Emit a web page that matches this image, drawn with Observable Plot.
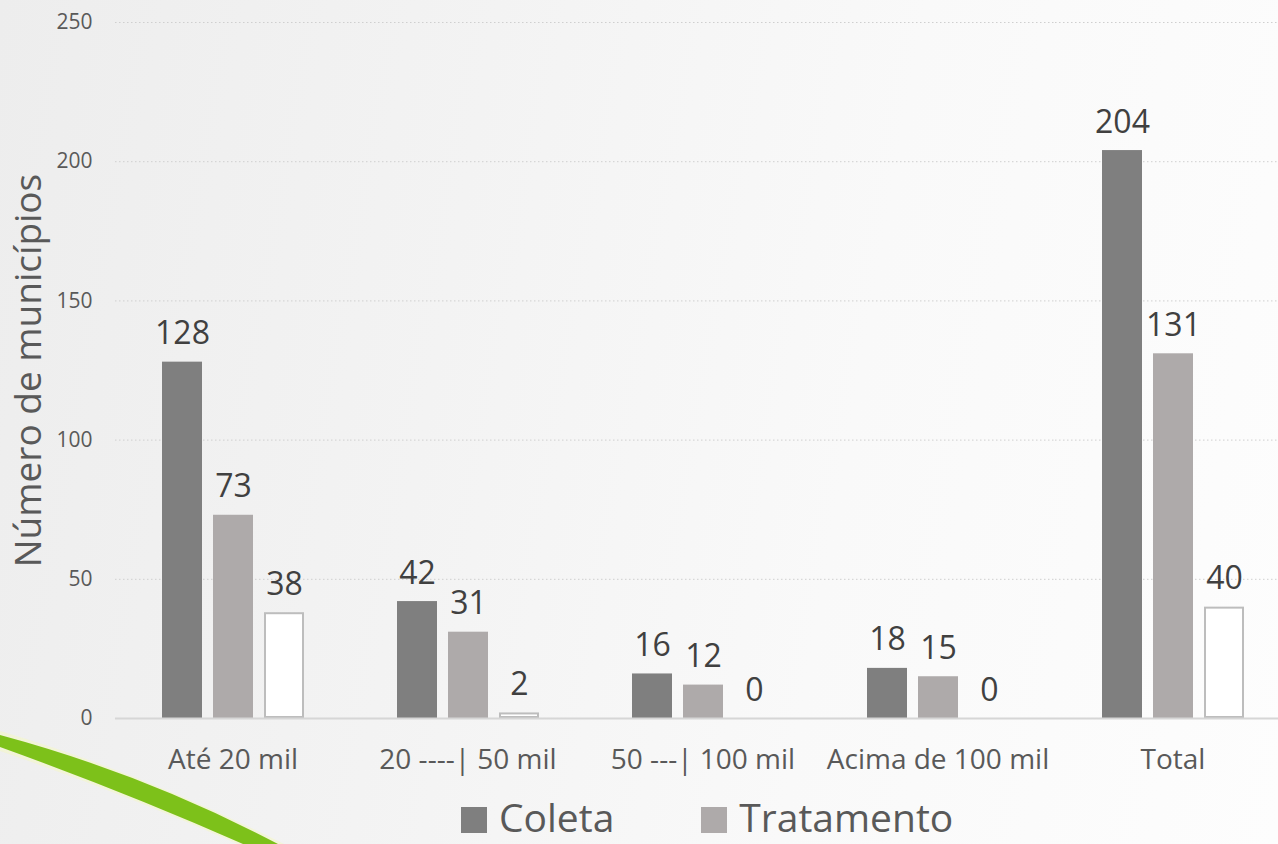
<!DOCTYPE html>
<html>
<head>
<meta charset="utf-8">
<script src="https://cdn.jsdelivr.net/npm/d3@7"></script>
<script src="https://cdn.jsdelivr.net/npm/@observablehq/plot@0.6"></script>
<style>
html, body { margin: 0; padding: 0; }
body {
  width: 1278px; height: 844px; overflow: hidden; position: relative;
  font-family: "Open Sans", sans-serif;
  background: linear-gradient(100deg, #ededed 0%, #f3f3f3 35%, #f9f9f9 65%, #fdfdfd 100%);
}
#deco { position: absolute; left: 0; top: 0; z-index: 0; }
#chart { position: absolute; left: 0; top: 0; z-index: 1; }
#legend {
  position: absolute; left: 461px; top: 799px; z-index: 2;
  display: flex; align-items: flex-start; font-size: 39px; line-height: 36px; color: #595959;
}
#legend .item { display: flex; align-items: flex-start; margin-right: 87px; }
#legend .sw { width: 26px; height: 26px; margin-right: 12px; margin-top: 8px; }
</style>
</head>
<body>
<svg id="deco" width="1278" height="844">
  <path d="M0,731 L0,751 Q120,792 238,844 L284,844 Q140,772 0,731 Z" fill="#f3f6c8" opacity="0.6"/>
  <path d="M0,735 L0,747 Q125,792 243,844 L278,844 Q145,774 0,735 Z" fill="#7dc11a"/>
</svg>
<div id="chart"></div>
<div id="legend"></div>
<script>
const categories = ["Até 20 mil", "20 ----| 50 mil", "50 ---| 100 mil", "Acima de 100 mil", "Total"];
const series = ["Coleta", "Tratamento", "Disposição"];
const coleta = [128, 42, 16, 18, 204];
const tratamento = [73, 31, 12, 15, 131];
const disposicao = [38, 2, 0, 0, 40];
const yTicks = [0, 50, 100, 150, 200, 250];
const legendSeries = ["Coleta", "Tratamento"];
const seriesColors = ["#7f7f7f", "#aeaaaa", "#ffffff"];

const values = [coleta, tratamento, disposicao];
const data = categories.flatMap((c, i) => series.map((s, j) => ({cat: c, s, v: values[j][i]})));

const chart = Plot.plot({
  width: 1278,
  height: 790,
  marginTop: 22,
  marginBottom: 72,
  marginLeft: 115,
  marginRight: 0,
  style: {fontFamily: "Open Sans", background: "transparent", color: "#595959", overflow: "visible"},
  fx: {domain: categories, range: [115, 1290], padding: 0, label: null},
  x: {domain: series, paddingInner: 0.22, paddingOuter: 0.87, axis: null},
  y: {domain: [0, 250], axis: null},
  color: {domain: series, range: seriesColors},
  marks: [
    Plot.gridY(yTicks, {stroke: "#cfcfcf", strokeOpacity: 1, strokeDasharray: "1.5,2.5"}),
    Plot.barY(data.filter(d => d.s !== series[2]), {fx: "cat", x: "s", y: "v", fill: "s"}),
    Plot.barY(data.filter(d => d.s === series[2] && d.v > 0), {fx: "cat", x: "s", y: "v", fill: "#ffffff", stroke: "#bdbdbd", strokeWidth: 2, inset: 1}),
    Plot.ruleY([0], {stroke: "#d6d6d6", strokeWidth: 2}),
    Plot.text(data, {fx: "cat", x: "s", y: "v", text: d => String(d.v), dy: -18, lineAnchor: "bottom", fontSize: 32, fill: "#404040"}),
    Plot.axisY({ticks: yTicks, tickSize: 0, tickPadding: 23, fontSize: 21, fill: "#595959", label: null}),
    Plot.axisY({ticks: [], tickSize: 0, fontSize: 37, fill: "#595959", label: "Número de municípios", labelAnchor: "center", labelOffset: 101, labelArrow: false}),
    Plot.axisFx({anchor: "bottom", tickSize: 0, tickPadding: 31, fontSize: 28, fill: "#595959", label: null})
  ]
});
document.getElementById("chart").appendChild(chart);

const legend = document.getElementById("legend");
legendSeries.forEach(name => {
  const item = document.createElement("div");
  item.className = "item";
  const sw = document.createElement("div");
  sw.className = "sw";
  sw.style.background = seriesColors[series.indexOf(name)];
  const label = document.createElement("span");
  label.textContent = name;
  item.appendChild(sw);
  item.appendChild(label);
  legend.appendChild(item);
});
</script>
</body>
</html>
